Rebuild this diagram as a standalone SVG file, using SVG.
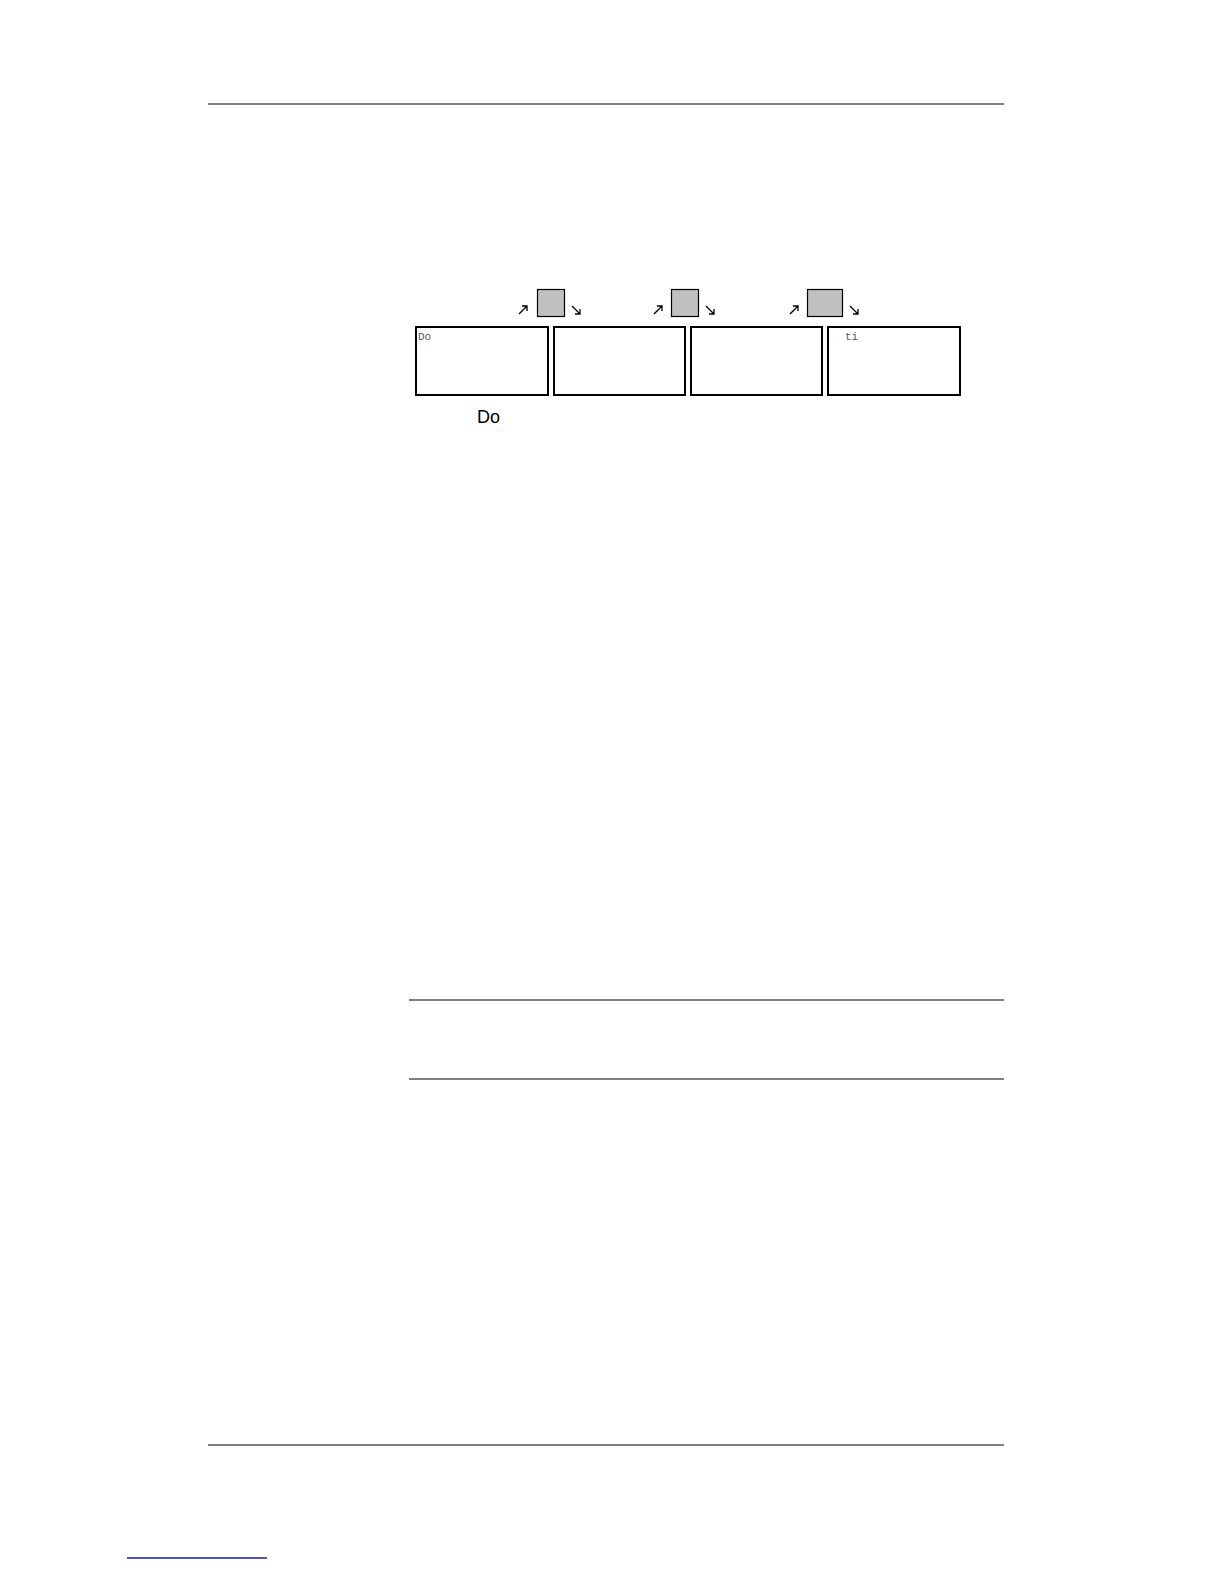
<svg xmlns="http://www.w3.org/2000/svg" width="1224" height="1584" viewBox="0 0 1224 1584">
<style>
.rule{stroke:#000;stroke-width:1.2}
.box{fill:#fff;stroke:#000;stroke-width:2}
.key{fill:#c0c0c0;stroke:#000;stroke-width:1.2}
.arr{fill:none;stroke:#000;stroke-width:1.3}
.mono{font-family:"Liberation Mono",monospace;font-size:11px;fill:#555}
.lbl{font-family:"Liberation Sans",Arial,sans-serif;font-size:18px;fill:#000}
</style>
<defs>
<path id="up" class="arr" d="M0 8 L8 0 M3 0 H8 V5"/>
<path id="dn" class="arr" d="M0 0 L8 8 M8 3 V8 H3"/>
</defs>
<rect width="1224" height="1584" fill="#fff"/>
<line class="rule" x1="208" y1="104" x2="1004" y2="104"/>
<line class="rule" x1="409" y1="1000" x2="1004" y2="1000"/>
<line class="rule" x1="409" y1="1079" x2="1004" y2="1079"/>
<line class="rule" x1="208" y1="1445" x2="1004" y2="1445"/>
<line x1="127" y1="1558" x2="267" y2="1558" stroke="#1a1a99" stroke-width="1.3"/>
<g id="keys">
<rect class="key" x="537.5" y="289.5" width="27" height="27"/>
<rect class="key" x="671.5" y="289.5" width="27" height="27"/>
<rect class="key" x="807.5" y="289.5" width="35" height="27"/>
</g>
<g id="arrows">
<use href="#up" x="519" y="306"/>
<use href="#dn" x="572" y="306"/>
<use href="#up" x="654" y="306"/>
<use href="#dn" x="706" y="306"/>
<use href="#up" x="790" y="306"/>
<use href="#dn" x="850" y="306"/>
</g>
<g id="box1"><rect class="box" x="416" y="327" width="132" height="68"/><text class="mono" x="418" y="340">Do</text></g>
<g id="box2"><rect class="box" x="554" y="327" width="131" height="68"/></g>
<g id="box3"><rect class="box" x="691" y="327" width="131" height="68"/></g>
<g id="box4"><rect class="box" x="828" y="327" width="132" height="68"/><text class="mono" x="845" y="340">ti</text></g>
<text class="lbl" x="477" y="423">Do</text>
</svg>
